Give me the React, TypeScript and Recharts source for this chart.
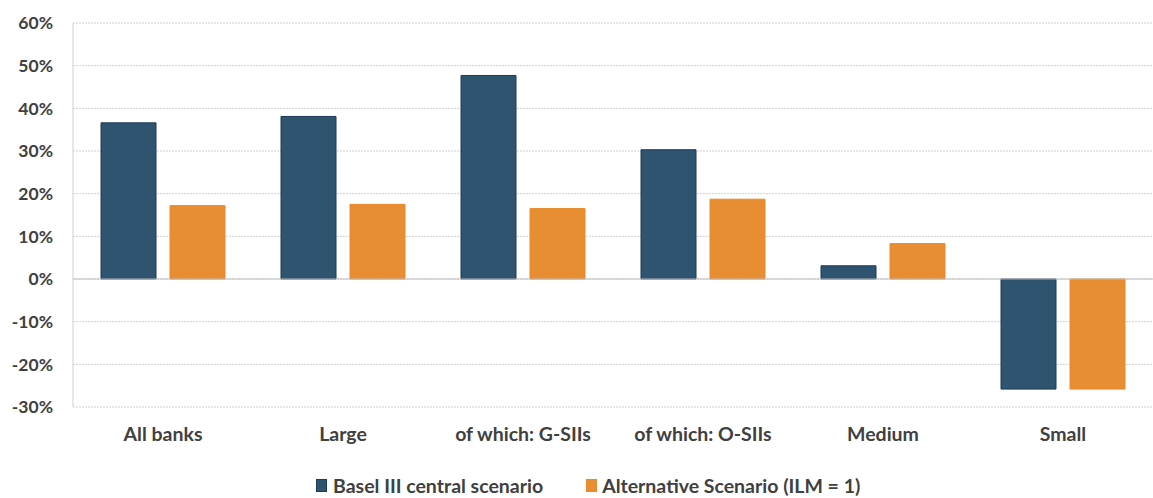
import React from 'react';
import { BarChart, Bar, XAxis, YAxis, CartesianGrid, ReferenceLine, Legend } from 'recharts';

const categories = ['All banks', 'Large', 'of which: G-SIIs', 'of which: O-SIIs', 'Medium', 'Small'];
const baselValues = [36.6, 38.1, 47.7, 30.3, 3.1, -25.8];
const altValues = [17.2, 17.5, 16.5, 18.7, 8.3, -25.8];
const yTicks = [-30, -20, -10, 0, 10, 20, 30, 40, 50, 60];

const seriesNames = ['Basel III central scenario', 'Alternative Scenario (ILM = 1)'];
const BLUE = '#2E5470';
const BLUE_STROKE = '#1E3A56';
const ORANGE = '#E88E32';
const ORANGE_STROKE = '#E8892C';
const TEXT = '#404040';
const FONT = 'Lato, "Open Sans", sans-serif';

const data = categories.map((c, i) => ({ name: c, basel: baselValues[i], alt: altValues[i] }));

const LegendContent = () => (
  <div style={{ display: 'flex', justifyContent: 'flex-start', alignItems: 'center', height: 22, fontFamily: FONT, fontWeight: 700, fontSize: 19.5, color: TEXT, paddingLeft: 316 }}>
    <div style={{ display: 'flex', alignItems: 'center', marginRight: 43 }}>
      <span style={{ display: 'inline-block', width: 11, height: 13, background: BLUE, border: `1px solid ${BLUE_STROKE}`, boxSizing: 'border-box', marginRight: 6 }} />
      {seriesNames[0]}
    </div>
    <div style={{ display: 'flex', alignItems: 'center' }}>
      <span style={{ display: 'inline-block', width: 11, height: 13, background: ORANGE, border: `1px solid ${ORANGE_STROKE}`, boxSizing: 'border-box', marginRight: 5 }} />
      {seriesNames[1]}
    </div>
  </div>
);

export default function App() {
  return (
    <div style={{ position: 'absolute', left: 0, top: 0, width: 1153, height: 498, background: '#fff' }}>
      <BarChart
        width={1153}
        height={498}
        data={data}
        margin={{ top: 23, right: 0, bottom: 29, left: 0 }}
        barGap={14}
        barSize={55}
      >
        <CartesianGrid vertical={false} stroke="#CFCFCF" strokeDasharray="2 1" />
        <XAxis
          dataKey="name"
          axisLine={false}
          tickLine={false}
          tickSize={0}
          tickMargin={20}
          height={40}
          interval={0}
          tick={{ fill: TEXT, fontSize: 19.5, fontFamily: FONT, fontWeight: 700 }}
        />
        <YAxis
          domain={[-30, 60]}
          ticks={yTicks}
          width={73}
          tickFormatter={(v: number) => `${v}%`}
          axisLine={{ stroke: '#CFCFCF' }}
          tickLine={false}
          tickSize={0}
          tickMargin={20}
          tick={{ fill: TEXT, fontSize: 17.5, fontFamily: FONT, fontWeight: 700 }}
          interval={0}
        />
        <ReferenceLine y={0} stroke="#BFBFBF" />
        <Bar dataKey="basel" name={seriesNames[0]} fill={BLUE} stroke={BLUE_STROKE} strokeWidth={1} isAnimationActive={false} />
        <Bar dataKey="alt" name={seriesNames[1]} fill={ORANGE} stroke={ORANGE_STROKE} strokeWidth={1} isAnimationActive={false} />
        <Legend verticalAlign="bottom" height={22} content={<LegendContent />} wrapperStyle={{ left: 0, bottom: 2, width: 1153 }} />
      </BarChart>
    </div>
  );
}
